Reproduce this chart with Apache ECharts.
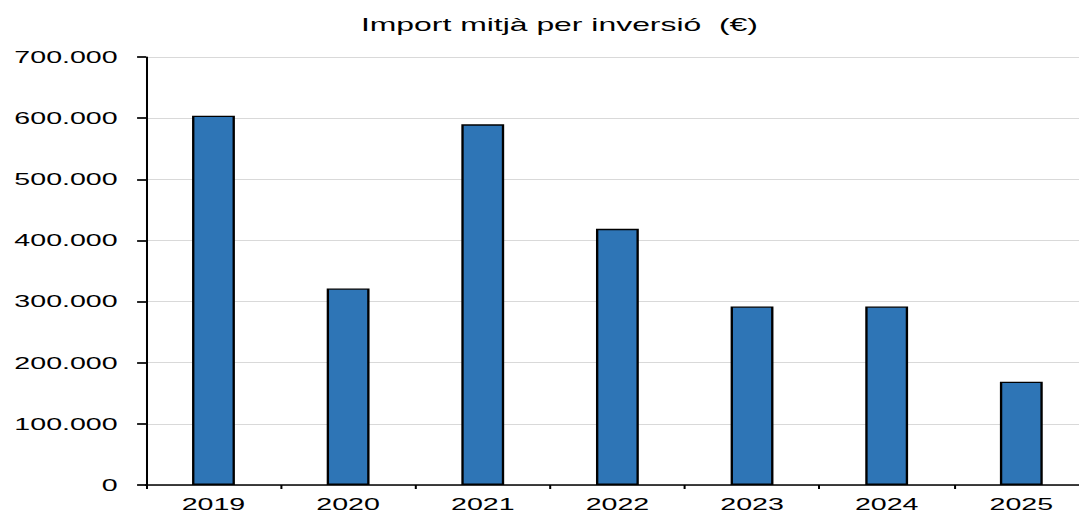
<!DOCTYPE html>
<html>
<head>
<meta charset="utf-8">
<script src="https://cdn.jsdelivr.net/npm/echarts@6/dist/echarts.min.js"></script>
<style>
  html, body { margin: 0; padding: 0; background: #fff; overflow: hidden; }
  /* the reference text is horizontally stretched, so draw narrower and stretch */
  #chart { width: 660px; height: 513px; transform: scaleX(1.68); transform-origin: 0 0; }
</style>
</head>
<body>
<div id="chart"></div>
<script>
const years = ['2019', '2020', '2021', '2022', '2023', '2024', '2025'];
const importMitja = [604000, 321500, 590000, 419000, 292000, 292000, 169000];
const yTicks = { min: 0, max: 700000, interval: 100000 };

function fmt(v) {
  return String(v).replace(/\B(?=(\d{3})+(?!\d))/g, '.');
}

const chart = echarts.init(document.getElementById('chart'), null, { renderer: 'svg' });
chart.setOption({
  animation: false,
  backgroundColor: '#fff',
  textStyle: { fontFamily: 'Liberation Sans, Arial, sans-serif' },
  title: {
    text: 'Import mitjà per inversió \u00a0(€)',
    left: 328,
    top: 10,
    textAlign: 'center',
    textStyle: { fontSize: 19, fontWeight: 'normal', color: '#000' }
  },
  grid: { left: 87, top: 57, width: 561, height: 428.5 },
  xAxis: {
    type: 'category',
    data: years,
    axisLine: { lineStyle: { color: '#000', width: 1.7 } },
    axisTick: { show: true, length: 4, lineStyle: { color: '#000', width: 1.2 } },
    axisLabel: { color: '#000', fontSize: 17, margin: 11 }
  },
  yAxis: {
    type: 'value',
    min: yTicks.min,
    max: yTicks.max,
    interval: yTicks.interval,
    axisLine: { show: true, lineStyle: { color: '#000', width: 1.2 } },
    axisTick: { show: true, length: 5.4, lineStyle: { color: '#000', width: 1.7 } },
    axisLabel: { color: '#000', fontSize: 17, margin: 17, formatter: fmt },
    splitLine: { lineStyle: { color: '#d9d9d9', width: 1.2 } }
  },
  series: [{
    type: 'bar',
    data: importMitja,
    barWidth: 25.5,
    itemStyle: { color: '#2e75b6', borderColor: '#000', borderWidth: 1.4 }
  }]
});
</script>
</body>
</html>
